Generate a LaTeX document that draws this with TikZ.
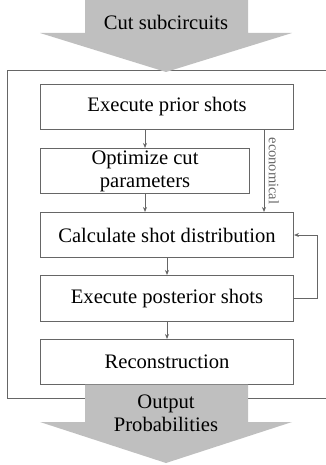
\documentclass[tikz,border=0pt]{standalone}
\usepackage{fontspec}
\setmainfont{Liberation Serif}
\usetikzlibrary{arrows.meta}

\begin{document}
\begin{tikzpicture}[x=1pt, y=-1pt,
  procbox/.style={draw=linegray, line width=1pt, fill=white, anchor=north west,
    minimum width=253pt, minimum height=45pt, inner sep=0pt, align=center,
    font=\fontsize{20.6}{23}\selectfont},
  flow/.style={-{Stealth[length=5pt, width=4pt]}, draw=linegray, line width=1pt}]
  % Define colors
  \colorlet{linegray}{black!60}
  \colorlet{bigarrow}{gray!50}

  \useasboundingbox (0,0) rectangle (325,465);

  % Outer frame
  \draw[draw=linegray, line width=1pt] (7,71) rectangle (335,398);

  % Input arrow
  \fill[bigarrow] (85,-2) -- (248,-2) -- (248,33) -- (292,33) -- (166,72)
    -- (40,33) -- (85,33) -- cycle;
  \node[font=\fontsize{20.6}{23}\selectfont] (cut) at (166,22) {Cut subcircuits};

  % Processing steps
  \node[procbox] (prior) at (40,84) {Execute prior shots};
  \node[procbox, minimum width=209pt] (opt) at (40,148) {Optimize cut\\parameters};
  \node[procbox] (calc) at (40,212) {Calculate shot distribution};
  \node[procbox, minimum height=46pt] (post) at (40,275) {Execute posterior shots};
  \node[procbox] (recon) at (40,339) {Reconstruction};

  % Output arrow
  \fill[bigarrow] (85,384.5) -- (248,384.5) -- (248,422) -- (292,422) -- (166,463)
    -- (40,422) -- (85,422) -- cycle;
  \node[font=\fontsize{20.6}{23}\selectfont, align=center] (out) at (166,413)
    {Output\\Probabilities};

  % Connectors between steps
  \draw[flow] (prior.south -| opt.north) -- (opt.north);
  \draw[flow] (opt.south) -- (opt.south |- calc.north);
  \draw[flow] (calc.south) -- (post.north);
  \draw[flow] (post.south) -- (recon.north);

  % Shortcut for the economical mode
  \draw[flow] ([xshift=-30pt]prior.south east) -- ([xshift=-30pt]calc.north east)
    node[midway, right=1pt, rotate=-90, anchor=south, font=\fontsize{14.5}{16}\selectfont,
      text=linegray] (eco) {economical};

  % Feedback loop
  \draw[flow] (post.east) -- ++(23,0) |- (calc.east);
\end{tikzpicture}
\end{document}
